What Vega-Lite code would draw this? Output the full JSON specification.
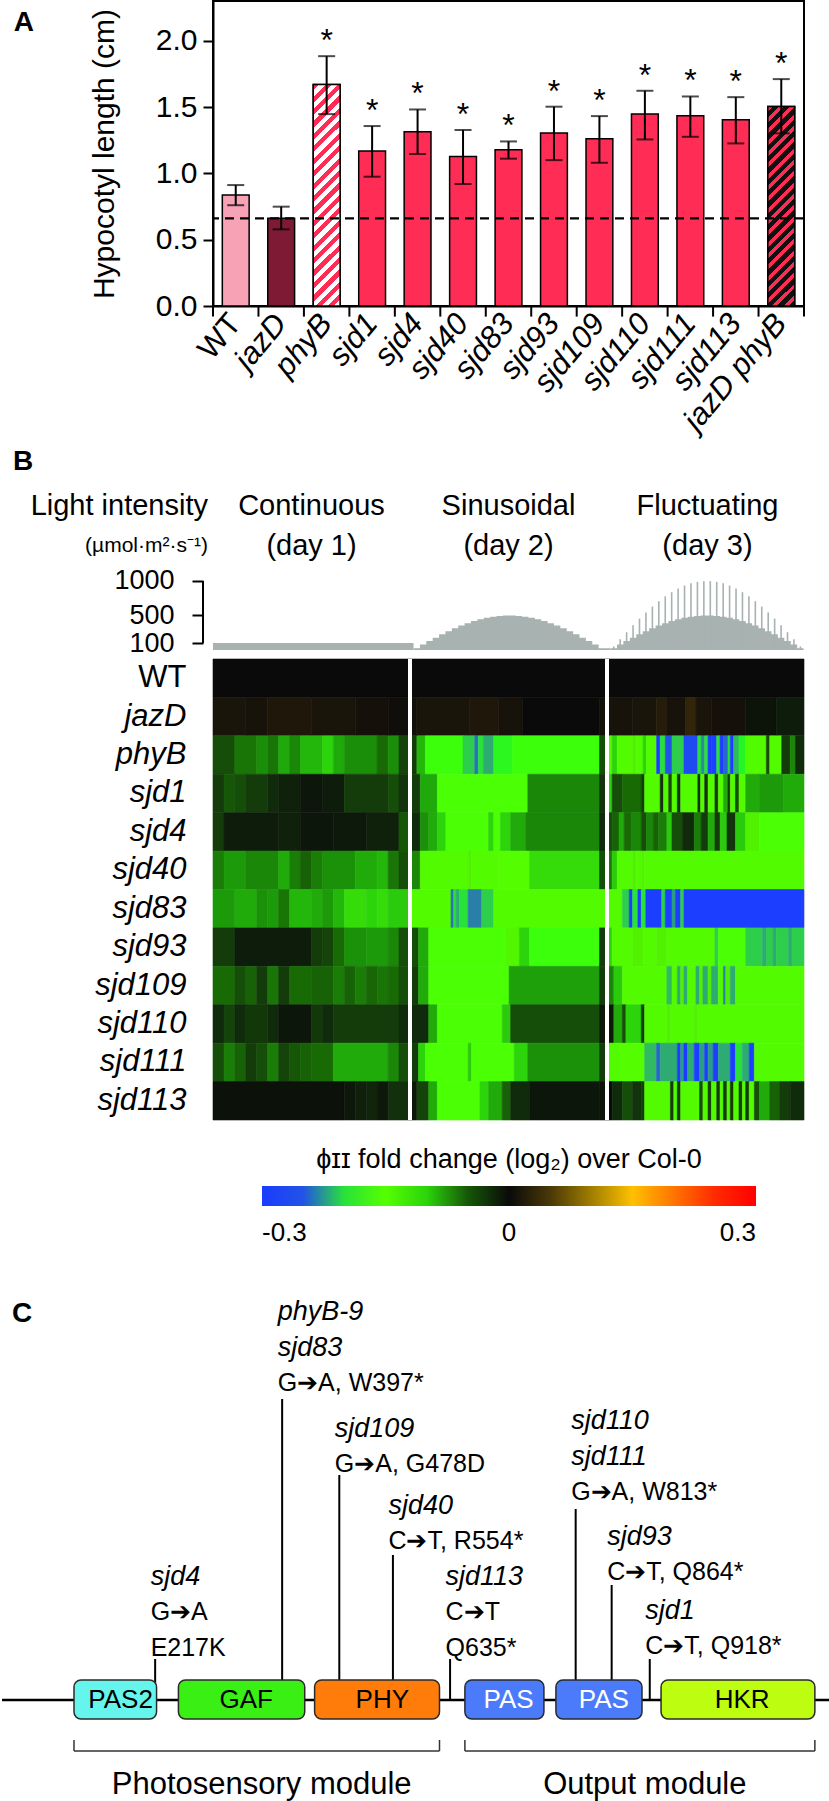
{
"$schema":"https://vega.github.io/schema/vega-lite/v6.json",
"padding":{"left":0,"top":0,"right":0,"bottom":0},
"background":"white",
"spacing":0,
"config":{"font":"Liberation Sans","view":{"stroke":null},"axis":{"domainColor":"black","tickColor":"black","labelColor":"black","titleColor":"black","grid":false},"concat":{"spacing":0}},
"datasets":{
"bars":[
{"g":"WT","m":0.837,"lo":0.76,"hi":0.912,"s":""},
{"g":"jazD","m":0.661,"lo":0.578,"hi":0.749,"s":""},
{"g":"phyB","m":1.671,"lo":1.447,"hi":1.884,"s":"*"},
{"g":"sjd1","m":1.168,"lo":0.975,"hi":1.357,"s":"*"},
{"g":"sjd4","m":1.314,"lo":1.146,"hi":1.482,"s":"*"},
{"g":"sjd40","m":1.128,"lo":0.92,"hi":1.327,"s":"*"},
{"g":"sjd83","m":1.178,"lo":1.111,"hi":1.241,"s":"*"},
{"g":"sjd93","m":1.304,"lo":1.1,"hi":1.503,"s":"*"},
{"g":"sjd109","m":1.261,"lo":1.08,"hi":1.432,"s":"*"},
{"g":"sjd110","m":1.447,"lo":1.256,"hi":1.623,"s":"*"},
{"g":"sjd111","m":1.435,"lo":1.276,"hi":1.58,"s":"*"},
{"g":"sjd113","m":1.405,"lo":1.226,"hi":1.575,"s":"*"},
{"g":"jazD phyB","m":1.505,"lo":1.302,"hi":1.711,"s":"*"}
],
"light":[
{"d":1,"t":0,"I":100},{"d":1,"t":99.6,"I":100},
{"d":2,"t":101.8,"I":26},{"d":2,"t":105.04,"I":78},{"d":2,"t":108.28,"I":129},{"d":2,"t":111.52,"I":179},{"d":2,"t":114.76,"I":227},{"d":2,"t":118,"I":272},{"d":2,"t":121.24,"I":315},{"d":2,"t":124.48,"I":354},{"d":2,"t":127.72,"I":389},{"d":2,"t":130.96,"I":419},{"d":2,"t":134.2,"I":446},{"d":2,"t":137.44,"I":467},{"d":2,"t":140.68,"I":483},{"d":2,"t":143.92,"I":494},{"d":2,"t":147.16,"I":499},{"d":2,"t":150.4,"I":499},{"d":2,"t":153.64,"I":494},{"d":2,"t":156.88,"I":483},{"d":2,"t":160.12,"I":467},{"d":2,"t":163.36,"I":446},{"d":2,"t":166.6,"I":419},{"d":2,"t":169.84,"I":389},{"d":2,"t":173.08,"I":354},{"d":2,"t":176.32,"I":315},{"d":2,"t":179.56,"I":272},{"d":2,"t":182.8,"I":227},{"d":2,"t":186.04,"I":179},{"d":2,"t":189.28,"I":129},{"d":2,"t":192.52,"I":78},{"d":2,"t":195.76,"I":26},{"d":2,"t":199,"I":26},
{"d":3,"t":201.8,"I":26},{"d":3,"t":205.07,"I":78},{"d":3,"t":208.33,"I":129},{"d":3,"t":211.6,"I":179},{"d":3,"t":214.87,"I":227},{"d":3,"t":218.13,"I":272},{"d":3,"t":221.4,"I":315},{"d":3,"t":224.67,"I":354},{"d":3,"t":227.94,"I":389},{"d":3,"t":231.2,"I":419},{"d":3,"t":234.47,"I":446},{"d":3,"t":237.74,"I":467},{"d":3,"t":241,"I":483},{"d":3,"t":244.27,"I":494},{"d":3,"t":247.54,"I":499},{"d":3,"t":250.8,"I":499},{"d":3,"t":254.07,"I":494},{"d":3,"t":257.34,"I":483},{"d":3,"t":260.6,"I":467},{"d":3,"t":263.87,"I":446},{"d":3,"t":267.14,"I":419},{"d":3,"t":270.4,"I":389},{"d":3,"t":273.67,"I":354},{"d":3,"t":276.94,"I":315},{"d":3,"t":280.2,"I":272},{"d":3,"t":283.47,"I":227},{"d":3,"t":286.74,"I":179},{"d":3,"t":290,"I":129},{"d":3,"t":293.27,"I":78},{"d":3,"t":296.54,"I":26},{"d":3,"t":299.8,"I":26}
],
"spikes":[
{"t":203.43,"I":52},{"t":206.7,"I":156},{"t":209.96,"I":258},{"t":213.23,"I":358},{"t":216.5,"I":454},{"t":219.76,"I":544},{"t":223.03,"I":630},{"t":226.3,"I":708},{"t":229.56,"I":778},{"t":232.83,"I":838},{"t":236.1,"I":892},{"t":239.36,"I":934},{"t":242.63,"I":966},{"t":245.9,"I":988},{"t":249.16,"I":998},{"t":252.43,"I":998},{"t":255.7,"I":988},{"t":258.96,"I":966},{"t":262.23,"I":934},{"t":265.5,"I":892},{"t":268.76,"I":838},{"t":272.03,"I":778},{"t":275.3,"I":708},{"t":278.56,"I":630},{"t":281.83,"I":544},{"t":285.1,"I":454},{"t":288.36,"I":358},{"t":291.63,"I":258},{"t":294.9,"I":156},{"t":298.16,"I":52}
],
"days":[{"t":50,"l1":"Continuous","l2":"(day 1)"},{"t":150,"l1":"Sinusoidal","l2":"(day 2)"},{"t":251,"l1":"Fluctuating","l2":"(day 3)"}],
"heat":[
{"g":"WT","a":0,"b":300,"v":0},
{"g":"jazD","a":0,"b":16.7,"v":0.015},{"g":"jazD","a":16.7,"b":27.8,"v":0.012},{"g":"jazD","a":27.8,"b":50,"v":0.02},{"g":"jazD","a":50,"b":72.2,"v":0.015},{"g":"jazD","a":72.2,"b":88.9,"v":0.01},{"g":"jazD","a":88.9,"b":100,"v":0.005},{"g":"jazD","a":100,"b":103.5,"v":0.008},{"g":"jazD","a":103.5,"b":130,"v":0.015},{"g":"jazD","a":130,"b":145,"v":0.02},{"g":"jazD","a":145,"b":157,"v":0.012},{"g":"jazD","a":157,"b":196.2,"v":0},{"g":"jazD","a":196.2,"b":200,"v":0.008},{"g":"jazD","a":200,"b":213,"v":0.012},{"g":"jazD","a":213,"b":225.2,"v":0.015},{"g":"jazD","a":225.2,"b":230.4,"v":0.025},{"g":"jazD","a":230.4,"b":240,"v":0.012},{"g":"jazD","a":240,"b":245.2,"v":0.035},{"g":"jazD","a":245.2,"b":253,"v":0.015},{"g":"jazD","a":253,"b":270.4,"v":0.01},{"g":"jazD","a":270.4,"b":286,"v":-0.008},{"g":"jazD","a":286,"b":300,"v":-0.015},
{"g":"phyB","a":0,"b":11.1,"v":-0.045},{"g":"phyB","a":11.1,"b":22.2,"v":-0.065},{"g":"phyB","a":22.2,"b":27.8,"v":-0.075},{"g":"phyB","a":27.8,"b":33.3,"v":-0.065},{"g":"phyB","a":33.3,"b":38.9,"v":-0.085},{"g":"phyB","a":38.9,"b":44.4,"v":-0.072},{"g":"phyB","a":44.4,"b":55.6,"v":-0.09},{"g":"phyB","a":55.6,"b":61.1,"v":-0.1},{"g":"phyB","a":61.1,"b":66.7,"v":-0.085},{"g":"phyB","a":66.7,"b":83.3,"v":-0.075},{"g":"phyB","a":83.3,"b":88.9,"v":-0.06},{"g":"phyB","a":88.9,"b":94.4,"v":-0.075},{"g":"phyB","a":94.4,"b":100,"v":-0.04},
{"g":"phyB","a":100,"b":103.5,"v":-0.035},{"g":"phyB","a":103.5,"b":107.8,"v":-0.09},{"g":"phyB","a":107.8,"b":126.9,"v":-0.175},{"g":"phyB","a":126.9,"b":132.9,"v":-0.205},{"g":"phyB","a":132.9,"b":134.7,"v":-0.235},{"g":"phyB","a":134.7,"b":137.3,"v":-0.2},{"g":"phyB","a":137.3,"b":142.5,"v":-0.215},{"g":"phyB","a":142.5,"b":152,"v":-0.19},{"g":"phyB","a":152,"b":196.2,"v":-0.175},{"g":"phyB","a":196.2,"b":200,"v":-0.045},
{"g":"phyB","a":200,"b":202.6,"v":-0.14},{"g":"phyB","a":202.6,"b":205.2,"v":-0.1},{"g":"phyB","a":205.2,"b":213,"v":-0.14},{"g":"phyB","a":213,"b":214.8,"v":-0.12},{"g":"phyB","a":214.8,"b":218.3,"v":-0.14},{"g":"phyB","a":218.3,"b":220,"v":-0.1},{"g":"phyB","a":220,"b":225.2,"v":-0.14},{"g":"phyB","a":225.2,"b":227,"v":-0.29},{"g":"phyB","a":227,"b":229.6,"v":-0.2},{"g":"phyB","a":229.6,"b":233,"v":-0.25},{"g":"phyB","a":233,"b":239.1,"v":-0.205},{"g":"phyB","a":239.1,"b":246.1,"v":-0.255},{"g":"phyB","a":246.1,"b":247.8,"v":-0.2},{"g":"phyB","a":247.8,"b":249.6,"v":-0.225},{"g":"phyB","a":249.6,"b":251.3,"v":-0.2},{"g":"phyB","a":251.3,"b":253,"v":-0.29},{"g":"phyB","a":253,"b":255.7,"v":-0.26},{"g":"phyB","a":255.7,"b":257.4,"v":-0.2},{"g":"phyB","a":257.4,"b":259.1,"v":-0.28},{"g":"phyB","a":259.1,"b":261.4,"v":-0.24},{"g":"phyB","a":261.4,"b":262.6,"v":-0.2},{"g":"phyB","a":262.6,"b":264.3,"v":-0.28},{"g":"phyB","a":264.3,"b":267,"v":-0.21},{"g":"phyB","a":267,"b":270.4,"v":-0.195},{"g":"phyB","a":270.4,"b":280.9,"v":-0.14},{"g":"phyB","a":280.9,"b":282.6,"v":-0.045},{"g":"phyB","a":282.6,"b":288.7,"v":-0.14},{"g":"phyB","a":288.7,"b":293,"v":-0.035},{"g":"phyB","a":293,"b":295.7,"v":-0.072},{"g":"phyB","a":295.7,"b":300,"v":-0.025},
{"g":"sjd1","a":0,"b":5.6,"v":-0.035},{"g":"sjd1","a":5.6,"b":11.1,"v":-0.05},{"g":"sjd1","a":11.1,"b":16.7,"v":-0.045},{"g":"sjd1","a":16.7,"b":27.8,"v":-0.035},{"g":"sjd1","a":27.8,"b":33.3,"v":-0.025},{"g":"sjd1","a":33.3,"b":44.4,"v":-0.018},{"g":"sjd1","a":44.4,"b":55.6,"v":-0.01},{"g":"sjd1","a":55.6,"b":66.7,"v":-0.015},{"g":"sjd1","a":66.7,"b":88.9,"v":-0.035},{"g":"sjd1","a":88.9,"b":94.4,"v":-0.045},{"g":"sjd1","a":94.4,"b":100,"v":-0.03},
{"g":"sjd1","a":100,"b":105.2,"v":-0.035},{"g":"sjd1","a":105.2,"b":113.9,"v":-0.085},{"g":"sjd1","a":113.9,"b":159.8,"v":-0.16},{"g":"sjd1","a":159.8,"b":196.2,"v":-0.072},{"g":"sjd1","a":196.2,"b":200,"v":-0.03},
{"g":"sjd1","a":200,"b":202.6,"v":-0.1},{"g":"sjd1","a":202.6,"b":207.8,"v":-0.045},{"g":"sjd1","a":207.8,"b":217.4,"v":-0.06},{"g":"sjd1","a":217.4,"b":219.1,"v":-0.035},{"g":"sjd1","a":219.1,"b":227,"v":-0.14},{"g":"sjd1","a":227,"b":228.7,"v":-0.03},{"g":"sjd1","a":228.7,"b":231.3,"v":-0.14},{"g":"sjd1","a":231.3,"b":233,"v":-0.045},{"g":"sjd1","a":233,"b":235.7,"v":-0.14},{"g":"sjd1","a":235.7,"b":237.4,"v":-0.03},{"g":"sjd1","a":237.4,"b":246.1,"v":-0.14},{"g":"sjd1","a":246.1,"b":247.5,"v":-0.03},{"g":"sjd1","a":247.5,"b":249.6,"v":-0.14},{"g":"sjd1","a":249.6,"b":251.3,"v":-0.03},{"g":"sjd1","a":251.3,"b":254.8,"v":-0.14},{"g":"sjd1","a":254.8,"b":256.5,"v":-0.035},{"g":"sjd1","a":256.5,"b":259.1,"v":-0.14},{"g":"sjd1","a":259.1,"b":261.4,"v":-0.086},{"g":"sjd1","a":261.4,"b":262.6,"v":-0.035},{"g":"sjd1","a":262.6,"b":265.2,"v":-0.14},{"g":"sjd1","a":265.2,"b":267,"v":-0.045},{"g":"sjd1","a":267,"b":270.4,"v":-0.14},{"g":"sjd1","a":270.4,"b":277.4,"v":-0.086},{"g":"sjd1","a":277.4,"b":289.6,"v":-0.08},{"g":"sjd1","a":289.6,"b":300,"v":-0.086},
{"g":"sjd4","a":0,"b":5.6,"v":-0.035},{"g":"sjd4","a":5.6,"b":33.3,"v":-0.015},{"g":"sjd4","a":33.3,"b":44.4,"v":-0.018},{"g":"sjd4","a":44.4,"b":61.1,"v":-0.01},{"g":"sjd4","a":61.1,"b":77.8,"v":-0.013},{"g":"sjd4","a":77.8,"b":94.4,"v":-0.018},{"g":"sjd4","a":94.4,"b":100,"v":-0.05},
{"g":"sjd4","a":100,"b":105.2,"v":-0.025},{"g":"sjd4","a":105.2,"b":109.5,"v":-0.076},{"g":"sjd4","a":109.5,"b":113.9,"v":-0.086},{"g":"sjd4","a":113.9,"b":118.2,"v":-0.1},{"g":"sjd4","a":118.2,"b":139.9,"v":-0.16},{"g":"sjd4","a":139.9,"b":142.5,"v":-0.1},{"g":"sjd4","a":142.5,"b":145.9,"v":-0.16},{"g":"sjd4","a":145.9,"b":151.1,"v":-0.1},{"g":"sjd4","a":151.1,"b":158.9,"v":-0.086},{"g":"sjd4","a":158.9,"b":196.2,"v":-0.072},{"g":"sjd4","a":196.2,"b":200,"v":-0.025},
{"g":"sjd4","a":200,"b":202.6,"v":-0.045},{"g":"sjd4","a":202.6,"b":206.1,"v":-0.055},{"g":"sjd4","a":206.1,"b":208.7,"v":-0.086},{"g":"sjd4","a":208.7,"b":212.2,"v":-0.06},{"g":"sjd4","a":212.2,"b":217.4,"v":-0.072},{"g":"sjd4","a":217.4,"b":220,"v":-0.045},{"g":"sjd4","a":220,"b":223.5,"v":-0.072},{"g":"sjd4","a":223.5,"b":226.1,"v":-0.055},{"g":"sjd4","a":226.1,"b":230.4,"v":-0.068},{"g":"sjd4","a":230.4,"b":233,"v":-0.097},{"g":"sjd4","a":233,"b":238.3,"v":-0.045},{"g":"sjd4","a":238.3,"b":244.3,"v":-0.025},{"g":"sjd4","a":244.3,"b":247.8,"v":-0.068},{"g":"sjd4","a":247.8,"b":251.3,"v":-0.035},{"g":"sjd4","a":251.3,"b":254.8,"v":-0.086},{"g":"sjd4","a":254.8,"b":257.4,"v":-0.035},{"g":"sjd4","a":257.4,"b":260.9,"v":-0.097},{"g":"sjd4","a":260.9,"b":265.2,"v":-0.03},{"g":"sjd4","a":265.2,"b":270.4,"v":-0.097},{"g":"sjd4","a":270.4,"b":277.4,"v":-0.12},{"g":"sjd4","a":277.4,"b":300,"v":-0.16},
{"g":"sjd40","a":0,"b":5.6,"v":-0.068},{"g":"sjd40","a":5.6,"b":16.7,"v":-0.08},{"g":"sjd40","a":16.7,"b":33.3,"v":-0.072},{"g":"sjd40","a":33.3,"b":38.9,"v":-0.086},{"g":"sjd40","a":38.9,"b":44.4,"v":-0.068},{"g":"sjd40","a":44.4,"b":50,"v":-0.055},{"g":"sjd40","a":50,"b":55.6,"v":-0.068},{"g":"sjd40","a":55.6,"b":72.2,"v":-0.076},{"g":"sjd40","a":72.2,"b":83.3,"v":-0.086},{"g":"sjd40","a":83.3,"b":88.9,"v":-0.09},{"g":"sjd40","a":88.9,"b":94.4,"v":-0.065},{"g":"sjd40","a":94.4,"b":100,"v":-0.045},
{"g":"sjd40","a":100,"b":105.2,"v":-0.072},{"g":"sjd40","a":105.2,"b":129.5,"v":-0.14},{"g":"sjd40","a":129.5,"b":131.2,"v":-0.12},{"g":"sjd40","a":131.2,"b":145.1,"v":-0.14},{"g":"sjd40","a":145.1,"b":160.7,"v":-0.145},{"g":"sjd40","a":160.7,"b":196.2,"v":-0.105},{"g":"sjd40","a":196.2,"b":200,"v":-0.045},
{"g":"sjd40","a":200,"b":202.6,"v":-0.068},{"g":"sjd40","a":202.6,"b":205.2,"v":-0.097},{"g":"sjd40","a":205.2,"b":213,"v":-0.14},{"g":"sjd40","a":213,"b":214.8,"v":-0.12},{"g":"sjd40","a":214.8,"b":217.4,"v":-0.14},{"g":"sjd40","a":217.4,"b":219.1,"v":-0.12},{"g":"sjd40","a":219.1,"b":300,"v":-0.14},
{"g":"sjd83","a":0,"b":11.1,"v":-0.08},{"g":"sjd83","a":11.1,"b":22.2,"v":-0.086},{"g":"sjd83","a":22.2,"b":27.8,"v":-0.076},{"g":"sjd83","a":27.8,"b":33.3,"v":-0.08},{"g":"sjd83","a":33.3,"b":38.9,"v":-0.065},{"g":"sjd83","a":38.9,"b":50,"v":-0.09},{"g":"sjd83","a":50,"b":55.6,"v":-0.086},{"g":"sjd83","a":55.6,"b":61.1,"v":-0.08},{"g":"sjd83","a":61.1,"b":66.7,"v":-0.09},{"g":"sjd83","a":66.7,"b":77.8,"v":-0.105},{"g":"sjd83","a":77.8,"b":83.3,"v":-0.1},{"g":"sjd83","a":83.3,"b":88.9,"v":-0.105},{"g":"sjd83","a":88.9,"b":100,"v":-0.097},
{"g":"sjd83","a":100,"b":120.8,"v":-0.14},{"g":"sjd83","a":120.8,"b":122.2,"v":-0.235},{"g":"sjd83","a":122.2,"b":123.4,"v":-0.2},{"g":"sjd83","a":123.4,"b":125.1,"v":-0.215},{"g":"sjd83","a":125.1,"b":129.5,"v":-0.2},{"g":"sjd83","a":129.5,"b":136.4,"v":-0.23},{"g":"sjd83","a":136.4,"b":142.5,"v":-0.205},{"g":"sjd83","a":142.5,"b":200,"v":-0.14},
{"g":"sjd83","a":200,"b":207.8,"v":-0.14},{"g":"sjd83","a":207.8,"b":211.3,"v":-0.205},{"g":"sjd83","a":211.3,"b":213,"v":-0.28},{"g":"sjd83","a":213,"b":215.7,"v":-0.2},{"g":"sjd83","a":215.7,"b":217.4,"v":-0.28},{"g":"sjd83","a":217.4,"b":219.7,"v":-0.2},{"g":"sjd83","a":219.7,"b":227.8,"v":-0.28},{"g":"sjd83","a":227.8,"b":229.6,"v":-0.205},{"g":"sjd83","a":229.6,"b":233,"v":-0.28},{"g":"sjd83","a":233,"b":234.8,"v":-0.22},{"g":"sjd83","a":234.8,"b":237.4,"v":-0.28},{"g":"sjd83","a":237.4,"b":239.1,"v":-0.205},{"g":"sjd83","a":239.1,"b":300,"v":-0.28},
{"g":"sjd93","a":0,"b":11.1,"v":-0.035},{"g":"sjd93","a":11.1,"b":50,"v":-0.015},{"g":"sjd93","a":50,"b":55.6,"v":-0.035},{"g":"sjd93","a":55.6,"b":61.1,"v":-0.04},{"g":"sjd93","a":61.1,"b":66.7,"v":-0.06},{"g":"sjd93","a":66.7,"b":77.8,"v":-0.076},{"g":"sjd93","a":77.8,"b":88.9,"v":-0.08},{"g":"sjd93","a":88.9,"b":94.4,"v":-0.072},{"g":"sjd93","a":94.4,"b":100,"v":-0.045},
{"g":"sjd93","a":100,"b":104.3,"v":-0.045},{"g":"sjd93","a":104.3,"b":109.5,"v":-0.086},{"g":"sjd93","a":109.5,"b":148.5,"v":-0.16},{"g":"sjd93","a":148.5,"b":155.5,"v":-0.13},{"g":"sjd93","a":155.5,"b":160.7,"v":-0.1},{"g":"sjd93","a":160.7,"b":196.2,"v":-0.175},{"g":"sjd93","a":196.2,"b":200,"v":-0.035},
{"g":"sjd93","a":200,"b":202.6,"v":-0.1},{"g":"sjd93","a":202.6,"b":213,"v":-0.14},{"g":"sjd93","a":213,"b":218.3,"v":-0.12},{"g":"sjd93","a":218.3,"b":225.2,"v":-0.14},{"g":"sjd93","a":225.2,"b":230.4,"v":-0.12},{"g":"sjd93","a":230.4,"b":254.8,"v":-0.14},{"g":"sjd93","a":254.8,"b":256.5,"v":-0.205},{"g":"sjd93","a":256.5,"b":270.4,"v":-0.16},{"g":"sjd93","a":270.4,"b":279,"v":-0.205},{"g":"sjd93","a":279,"b":281,"v":-0.215},{"g":"sjd93","a":281,"b":284.3,"v":-0.205},{"g":"sjd93","a":284.3,"b":286,"v":-0.215},{"g":"sjd93","a":286,"b":292.2,"v":-0.205},{"g":"sjd93","a":292.2,"b":293.9,"v":-0.215},{"g":"sjd93","a":293.9,"b":300,"v":-0.205},
{"g":"sjd109","a":0,"b":11.1,"v":-0.06},{"g":"sjd109","a":11.1,"b":16.7,"v":-0.045},{"g":"sjd109","a":16.7,"b":22.2,"v":-0.055},{"g":"sjd109","a":22.2,"b":27.8,"v":-0.035},{"g":"sjd109","a":27.8,"b":33.3,"v":-0.065},{"g":"sjd109","a":33.3,"b":38.9,"v":-0.035},{"g":"sjd109","a":38.9,"b":50,"v":-0.06},{"g":"sjd109","a":50,"b":61.1,"v":-0.055},{"g":"sjd109","a":61.1,"b":66.7,"v":-0.068},{"g":"sjd109","a":66.7,"b":72.2,"v":-0.055},{"g":"sjd109","a":72.2,"b":77.8,"v":-0.068},{"g":"sjd109","a":77.8,"b":83.3,"v":-0.058},{"g":"sjd109","a":83.3,"b":88.9,"v":-0.065},{"g":"sjd109","a":88.9,"b":94.4,"v":-0.06},{"g":"sjd109","a":94.4,"b":100,"v":-0.045},
{"g":"sjd109","a":100,"b":104.3,"v":-0.035},{"g":"sjd109","a":104.3,"b":109.5,"v":-0.086},{"g":"sjd109","a":109.5,"b":150.3,"v":-0.16},{"g":"sjd109","a":150.3,"b":196.2,"v":-0.082},{"g":"sjd109","a":196.2,"b":200,"v":-0.035},
{"g":"sjd109","a":200,"b":203.5,"v":-0.072},{"g":"sjd109","a":203.5,"b":207.8,"v":-0.097},{"g":"sjd109","a":207.8,"b":230.4,"v":-0.14},{"g":"sjd109","a":230.4,"b":233,"v":-0.21},{"g":"sjd109","a":233,"b":235.7,"v":-0.14},{"g":"sjd109","a":235.7,"b":237.4,"v":-0.215},{"g":"sjd109","a":237.4,"b":239.1,"v":-0.12},{"g":"sjd109","a":239.1,"b":240.9,"v":-0.215},{"g":"sjd109","a":240.9,"b":245.2,"v":-0.14},{"g":"sjd109","a":245.2,"b":247,"v":-0.215},{"g":"sjd109","a":247,"b":248.7,"v":-0.12},{"g":"sjd109","a":248.7,"b":251.3,"v":-0.215},{"g":"sjd109","a":251.3,"b":253,"v":-0.12},{"g":"sjd109","a":253,"b":256.5,"v":-0.215},{"g":"sjd109","a":256.5,"b":259.1,"v":-0.14},{"g":"sjd109","a":259.1,"b":260.3,"v":-0.23},{"g":"sjd109","a":260.3,"b":262.6,"v":-0.12},{"g":"sjd109","a":262.6,"b":265.2,"v":-0.215},{"g":"sjd109","a":265.2,"b":300,"v":-0.14},
{"g":"sjd110","a":0,"b":5.6,"v":-0.025},{"g":"sjd110","a":5.6,"b":11.1,"v":-0.04},{"g":"sjd110","a":11.1,"b":16.7,"v":-0.025},{"g":"sjd110","a":16.7,"b":27.8,"v":-0.033},{"g":"sjd110","a":27.8,"b":33.3,"v":-0.025},{"g":"sjd110","a":33.3,"b":50,"v":-0.01},{"g":"sjd110","a":50,"b":55.6,"v":-0.033},{"g":"sjd110","a":55.6,"b":61.1,"v":-0.025},{"g":"sjd110","a":61.1,"b":94.4,"v":-0.035},{"g":"sjd110","a":94.4,"b":100,"v":-0.025},
{"g":"sjd110","a":100,"b":109.5,"v":-0.025},{"g":"sjd110","a":109.5,"b":113.9,"v":-0.086},{"g":"sjd110","a":113.9,"b":146.8,"v":-0.16},{"g":"sjd110","a":146.8,"b":151.1,"v":-0.097},{"g":"sjd110","a":151.1,"b":196.2,"v":-0.045},{"g":"sjd110","a":196.2,"b":200,"v":-0.012},
{"g":"sjd110","a":200,"b":203.5,"v":-0.012},{"g":"sjd110","a":203.5,"b":207.8,"v":-0.086},{"g":"sjd110","a":207.8,"b":209.6,"v":-0.045},{"g":"sjd110","a":209.6,"b":217.4,"v":-0.1},{"g":"sjd110","a":217.4,"b":219.1,"v":-0.035},{"g":"sjd110","a":219.1,"b":230.4,"v":-0.14},{"g":"sjd110","a":230.4,"b":232.2,"v":-0.12},{"g":"sjd110","a":232.2,"b":244.3,"v":-0.14},{"g":"sjd110","a":244.3,"b":246.1,"v":-0.12},{"g":"sjd110","a":246.1,"b":300,"v":-0.14},
{"g":"sjd111","a":0,"b":5.6,"v":-0.045},{"g":"sjd111","a":5.6,"b":11.1,"v":-0.068},{"g":"sjd111","a":11.1,"b":16.7,"v":-0.055},{"g":"sjd111","a":16.7,"b":22.2,"v":-0.035},{"g":"sjd111","a":22.2,"b":27.8,"v":-0.045},{"g":"sjd111","a":27.8,"b":33.3,"v":-0.068},{"g":"sjd111","a":33.3,"b":38.9,"v":-0.04},{"g":"sjd111","a":38.9,"b":44.4,"v":-0.05},{"g":"sjd111","a":44.4,"b":50,"v":-0.055},{"g":"sjd111","a":50,"b":61.1,"v":-0.06},{"g":"sjd111","a":61.1,"b":88.9,"v":-0.086},{"g":"sjd111","a":88.9,"b":94.4,"v":-0.072},{"g":"sjd111","a":94.4,"b":100,"v":-0.045},
{"g":"sjd111","a":100,"b":104.3,"v":-0.035},{"g":"sjd111","a":104.3,"b":107.8,"v":-0.1},{"g":"sjd111","a":107.8,"b":129.5,"v":-0.16},{"g":"sjd111","a":129.5,"b":131.2,"v":-0.097},{"g":"sjd111","a":131.2,"b":152.9,"v":-0.16},{"g":"sjd111","a":152.9,"b":159.8,"v":-0.1},{"g":"sjd111","a":159.8,"b":196.2,"v":-0.076},{"g":"sjd111","a":196.2,"b":200,"v":-0.035},
{"g":"sjd111","a":200,"b":206.1,"v":-0.14},{"g":"sjd111","a":206.1,"b":219.1,"v":-0.145},{"g":"sjd111","a":219.1,"b":225.2,"v":-0.21},{"g":"sjd111","a":225.2,"b":227,"v":-0.24},{"g":"sjd111","a":227,"b":235.7,"v":-0.215},{"g":"sjd111","a":235.7,"b":237.4,"v":-0.27},{"g":"sjd111","a":237.4,"b":239.1,"v":-0.22},{"g":"sjd111","a":239.1,"b":240.9,"v":-0.29},{"g":"sjd111","a":240.9,"b":244.3,"v":-0.215},{"g":"sjd111","a":244.3,"b":247,"v":-0.28},{"g":"sjd111","a":247,"b":249.6,"v":-0.22},{"g":"sjd111","a":249.6,"b":251.3,"v":-0.28},{"g":"sjd111","a":251.3,"b":253.9,"v":-0.22},{"g":"sjd111","a":253.9,"b":256.5,"v":-0.27},{"g":"sjd111","a":256.5,"b":262.6,"v":-0.215},{"g":"sjd111","a":262.6,"b":265.2,"v":-0.27},{"g":"sjd111","a":265.2,"b":268.7,"v":-0.2},{"g":"sjd111","a":268.7,"b":272.2,"v":-0.215},{"g":"sjd111","a":272.2,"b":274.8,"v":-0.27},{"g":"sjd111","a":274.8,"b":300,"v":-0.14},
{"g":"sjd113","a":0,"b":66.7,"v":-0.006},{"g":"sjd113","a":66.7,"b":72.2,"v":-0.012},{"g":"sjd113","a":72.2,"b":77.8,"v":-0.018},{"g":"sjd113","a":77.8,"b":83.3,"v":-0.022},{"g":"sjd113","a":83.3,"b":88.9,"v":-0.012},{"g":"sjd113","a":88.9,"b":100,"v":-0.028},
{"g":"sjd113","a":100,"b":103.5,"v":-0.012},{"g":"sjd113","a":103.5,"b":109.5,"v":-0.04},{"g":"sjd113","a":109.5,"b":113.9,"v":-0.086},{"g":"sjd113","a":113.9,"b":135.5,"v":-0.16},{"g":"sjd113","a":135.5,"b":139.9,"v":-0.1},{"g":"sjd113","a":139.9,"b":146.8,"v":-0.086},{"g":"sjd113","a":146.8,"b":151.1,"v":-0.055},{"g":"sjd113","a":151.1,"b":160.7,"v":-0.025},{"g":"sjd113","a":160.7,"b":196.2,"v":-0.01},{"g":"sjd113","a":196.2,"b":200,"v":-0.008},
{"g":"sjd113","a":200,"b":202.6,"v":0},{"g":"sjd113","a":202.6,"b":207.8,"v":-0.025},{"g":"sjd113","a":207.8,"b":213,"v":-0.045},{"g":"sjd113","a":213,"b":217.4,"v":-0.03},{"g":"sjd113","a":217.4,"b":219.1,"v":-0.035},{"g":"sjd113","a":219.1,"b":232.2,"v":-0.14},{"g":"sjd113","a":232.2,"b":233.9,"v":-0.035},{"g":"sjd113","a":233.9,"b":235.7,"v":-0.14},{"g":"sjd113","a":235.7,"b":237.4,"v":-0.035},{"g":"sjd113","a":237.4,"b":247,"v":-0.14},{"g":"sjd113","a":247,"b":248.7,"v":-0.045},{"g":"sjd113","a":248.7,"b":251.3,"v":-0.14},{"g":"sjd113","a":251.3,"b":253,"v":-0.035},{"g":"sjd113","a":253,"b":255.7,"v":-0.14},{"g":"sjd113","a":255.7,"b":257.4,"v":-0.035},{"g":"sjd113","a":257.4,"b":259.1,"v":-0.14},{"g":"sjd113","a":259.1,"b":260.9,"v":-0.035},{"g":"sjd113","a":260.9,"b":262.6,"v":-0.14},{"g":"sjd113","a":262.6,"b":264.3,"v":-0.035},{"g":"sjd113","a":264.3,"b":267,"v":-0.14},{"g":"sjd113","a":267,"b":268.7,"v":-0.035},{"g":"sjd113","a":268.7,"b":270.4,"v":-0.14},{"g":"sjd113","a":270.4,"b":272.2,"v":-0.035},{"g":"sjd113","a":272.2,"b":274.8,"v":-0.14},{"g":"sjd113","a":274.8,"b":277.4,"v":-0.045},{"g":"sjd113","a":277.4,"b":282.6,"v":-0.086},{"g":"sjd113","a":282.6,"b":287.8,"v":-0.055},{"g":"sjd113","a":287.8,"b":293,"v":-0.035},{"g":"sjd113","a":293,"b":300,"v":-0.025}
],
"doms":[{"n":"PAS2","a":102,"b":219,"c":168},{"n":"GAF","a":250,"b":429,"c":346},{"n":"PHY","a":443,"b":620,"c":539},{"n":"PAS","a":656,"b":768,"c":718},{"n":"PAS","a":785,"b":907,"c":853},{"n":"HKR","a":934,"b":1152,"c":1049}],
"muts":[
{"aa":217,"top":143,"lt":238,"mt":202,"name":"sjd4","mut":"G➔A\nE217K"},
{"aa":397,"top":403,"lt":503,"mt":431,"name":"phyB-9\nsjd83","mut":"G➔A, W397*"},
{"aa":478,"top":327,"lt":386,"mt":350,"name":"sjd109","mut":"G➔A, G478D"},
{"aa":554,"top":247,"lt":309,"mt":273,"name":"sjd40","mut":"C➔T, R554*"},
{"aa":635,"top":143,"lt":238,"mt":202,"name":"sjd113","mut":"C➔T\nQ635*"},
{"aa":813,"top":293,"lt":394,"mt":322,"name":"sjd110\nsjd111","mut":"G➔A, W813*"},
{"aa":864,"top":217,"lt":278,"mt":242,"name":"sjd93","mut":"C➔T, Q864*"},
{"aa":918,"top":143,"lt":204,"mt":168,"name":"sjd1","mut":"C➔T, Q918*"}
],
"mods":[{"a":102,"b":620,"c":368,"l":"Photosensory module"},{"a":656,"b":1152,"c":911,"l":"Output module"}]
},
"vconcat":[
{
"width":591,"height":305,
"view":{"stroke":"black","strokeWidth":2},
"data":{"name":"bars"},
"layer":[
{"mark":{"type":"bar","width":{"band":0.59},"stroke":"black","strokeWidth":1.5},
"encoding":{
"x":{"field":"g","type":"nominal","sort":["WT","jazD","phyB","sjd1","sjd4","sjd40","sjd83","sjd93","sjd109","sjd110","sjd111","sjd113","jazD phyB"],"title":null,"scale":{"paddingInner":0,"paddingOuter":0},
"axis":{"ticks":false,"labelAngle":-50,"labelAlign":"right","labelBaseline":"middle","labelFontSize":31,"labelPadding":12,"domainWidth":2,"labelLimit":300,"labelFontStyle":{"condition":{"test":"datum.value == 'WT'","value":"normal"},"value":"italic"}}},
"y":{"field":"m","type":"quantitative","title":"Hypocotyl length (cm)","scale":{"domain":[0,2.3],"nice":false},
"axis":{"values":[0,0.5,1,1.5,2],"format":".1f","labelFontSize":30,"tickSize":10,"tickWidth":2,"domainWidth":2,"titleFontSize":30,"titleFontWeight":"normal","titlePadding":36,"labelPadding":6}},
"color":{"field":"g","type":"nominal","legend":null,"scale":{"domain":["WT","jazD","phyB","sjd1","sjd4","sjd40","sjd83","sjd93","sjd109","sjd110","sjd111","sjd113","jazD phyB"],"range":["#f7a3b5","#7e1a33","#ffffff","#ff2d55","#ff2d55","#ff2d55","#ff2d55","#ff2d55","#ff2d55","#ff2d55","#ff2d55","#ff2d55","#111111"]}}}},
{"transform":[{"filter":"datum.g == 'phyB'"}],
"mark":{"type":"bar","width":{"band":0.59},"stroke":"black","strokeWidth":1.5,
"fill":{"gradient":"linear","x1":0,"y1":0,"x2":0.1336,"y2":1.105,"stops":[
{"offset":0,"color":"#ff2d55"},{"offset":0.025,"color":"#ff2d55"},{"offset":0.025,"color":"#ffffff"},{"offset":0.05,"color":"#ffffff"},
{"offset":0.05,"color":"#ff2d55"},{"offset":0.075,"color":"#ff2d55"},{"offset":0.075,"color":"#ffffff"},{"offset":0.1,"color":"#ffffff"},
{"offset":0.1,"color":"#ff2d55"},{"offset":0.125,"color":"#ff2d55"},{"offset":0.125,"color":"#ffffff"},{"offset":0.15,"color":"#ffffff"},
{"offset":0.15,"color":"#ff2d55"},{"offset":0.175,"color":"#ff2d55"},{"offset":0.175,"color":"#ffffff"},{"offset":0.2,"color":"#ffffff"},
{"offset":0.2,"color":"#ff2d55"},{"offset":0.225,"color":"#ff2d55"},{"offset":0.225,"color":"#ffffff"},{"offset":0.25,"color":"#ffffff"},
{"offset":0.25,"color":"#ff2d55"},{"offset":0.275,"color":"#ff2d55"},{"offset":0.275,"color":"#ffffff"},{"offset":0.3,"color":"#ffffff"},
{"offset":0.3,"color":"#ff2d55"},{"offset":0.325,"color":"#ff2d55"},{"offset":0.325,"color":"#ffffff"},{"offset":0.35,"color":"#ffffff"},
{"offset":0.35,"color":"#ff2d55"},{"offset":0.375,"color":"#ff2d55"},{"offset":0.375,"color":"#ffffff"},{"offset":0.4,"color":"#ffffff"},
{"offset":0.4,"color":"#ff2d55"},{"offset":0.425,"color":"#ff2d55"},{"offset":0.425,"color":"#ffffff"},{"offset":0.45,"color":"#ffffff"},
{"offset":0.45,"color":"#ff2d55"},{"offset":0.475,"color":"#ff2d55"},{"offset":0.475,"color":"#ffffff"},{"offset":0.5,"color":"#ffffff"},
{"offset":0.5,"color":"#ff2d55"},{"offset":0.525,"color":"#ff2d55"},{"offset":0.525,"color":"#ffffff"},{"offset":0.55,"color":"#ffffff"},
{"offset":0.55,"color":"#ff2d55"},{"offset":0.575,"color":"#ff2d55"},{"offset":0.575,"color":"#ffffff"},{"offset":0.6,"color":"#ffffff"},
{"offset":0.6,"color":"#ff2d55"},{"offset":0.625,"color":"#ff2d55"},{"offset":0.625,"color":"#ffffff"},{"offset":0.65,"color":"#ffffff"},
{"offset":0.65,"color":"#ff2d55"},{"offset":0.675,"color":"#ff2d55"},{"offset":0.675,"color":"#ffffff"},{"offset":0.7,"color":"#ffffff"},
{"offset":0.7,"color":"#ff2d55"},{"offset":0.725,"color":"#ff2d55"},{"offset":0.725,"color":"#ffffff"},{"offset":0.75,"color":"#ffffff"},
{"offset":0.75,"color":"#ff2d55"},{"offset":0.775,"color":"#ff2d55"},{"offset":0.775,"color":"#ffffff"},{"offset":0.8,"color":"#ffffff"},
{"offset":0.8,"color":"#ff2d55"},{"offset":0.825,"color":"#ff2d55"},{"offset":0.825,"color":"#ffffff"},{"offset":0.85,"color":"#ffffff"},
{"offset":0.85,"color":"#ff2d55"},{"offset":0.875,"color":"#ff2d55"},{"offset":0.875,"color":"#ffffff"},{"offset":0.9,"color":"#ffffff"},
{"offset":0.9,"color":"#ff2d55"},{"offset":0.925,"color":"#ff2d55"},{"offset":0.925,"color":"#ffffff"},{"offset":0.95,"color":"#ffffff"},
{"offset":0.95,"color":"#ff2d55"},{"offset":0.975,"color":"#ff2d55"},{"offset":0.975,"color":"#ffffff"},{"offset":1,"color":"#ffffff"}]}},
"encoding":{"x":{"field":"g","type":"nominal","sort":["WT","jazD","phyB","sjd1","sjd4","sjd40","sjd83","sjd93","sjd109","sjd110","sjd111","sjd113","jazD phyB"]},"y":{"field":"m","type":"quantitative"}}},
{"transform":[{"filter":"datum.g == 'jazD phyB'"}],
"mark":{"type":"bar","width":{"band":0.59},"stroke":"black","strokeWidth":1.5,
"fill":{"gradient":"linear","x1":0,"y1":0,"x2":0.1496,"y2":1.114,"stops":[
{"offset":0,"color":"#ff2d55"},{"offset":0.022,"color":"#ff2d55"},{"offset":0.022,"color":"#111111"},{"offset":0.05,"color":"#111111"},
{"offset":0.05,"color":"#ff2d55"},{"offset":0.072,"color":"#ff2d55"},{"offset":0.072,"color":"#111111"},{"offset":0.1,"color":"#111111"},
{"offset":0.1,"color":"#ff2d55"},{"offset":0.122,"color":"#ff2d55"},{"offset":0.122,"color":"#111111"},{"offset":0.15,"color":"#111111"},
{"offset":0.15,"color":"#ff2d55"},{"offset":0.172,"color":"#ff2d55"},{"offset":0.172,"color":"#111111"},{"offset":0.2,"color":"#111111"},
{"offset":0.2,"color":"#ff2d55"},{"offset":0.222,"color":"#ff2d55"},{"offset":0.222,"color":"#111111"},{"offset":0.25,"color":"#111111"},
{"offset":0.25,"color":"#ff2d55"},{"offset":0.272,"color":"#ff2d55"},{"offset":0.272,"color":"#111111"},{"offset":0.3,"color":"#111111"},
{"offset":0.3,"color":"#ff2d55"},{"offset":0.322,"color":"#ff2d55"},{"offset":0.322,"color":"#111111"},{"offset":0.35,"color":"#111111"},
{"offset":0.35,"color":"#ff2d55"},{"offset":0.372,"color":"#ff2d55"},{"offset":0.372,"color":"#111111"},{"offset":0.4,"color":"#111111"},
{"offset":0.4,"color":"#ff2d55"},{"offset":0.422,"color":"#ff2d55"},{"offset":0.422,"color":"#111111"},{"offset":0.45,"color":"#111111"},
{"offset":0.45,"color":"#ff2d55"},{"offset":0.472,"color":"#ff2d55"},{"offset":0.472,"color":"#111111"},{"offset":0.5,"color":"#111111"},
{"offset":0.5,"color":"#ff2d55"},{"offset":0.522,"color":"#ff2d55"},{"offset":0.522,"color":"#111111"},{"offset":0.55,"color":"#111111"},
{"offset":0.55,"color":"#ff2d55"},{"offset":0.572,"color":"#ff2d55"},{"offset":0.572,"color":"#111111"},{"offset":0.6,"color":"#111111"},
{"offset":0.6,"color":"#ff2d55"},{"offset":0.622,"color":"#ff2d55"},{"offset":0.622,"color":"#111111"},{"offset":0.65,"color":"#111111"},
{"offset":0.65,"color":"#ff2d55"},{"offset":0.672,"color":"#ff2d55"},{"offset":0.672,"color":"#111111"},{"offset":0.7,"color":"#111111"},
{"offset":0.7,"color":"#ff2d55"},{"offset":0.722,"color":"#ff2d55"},{"offset":0.722,"color":"#111111"},{"offset":0.75,"color":"#111111"},
{"offset":0.75,"color":"#ff2d55"},{"offset":0.772,"color":"#ff2d55"},{"offset":0.772,"color":"#111111"},{"offset":0.8,"color":"#111111"},
{"offset":0.8,"color":"#ff2d55"},{"offset":0.822,"color":"#ff2d55"},{"offset":0.822,"color":"#111111"},{"offset":0.85,"color":"#111111"},
{"offset":0.85,"color":"#ff2d55"},{"offset":0.872,"color":"#ff2d55"},{"offset":0.872,"color":"#111111"},{"offset":0.9,"color":"#111111"},
{"offset":0.9,"color":"#ff2d55"},{"offset":0.922,"color":"#ff2d55"},{"offset":0.922,"color":"#111111"},{"offset":0.95,"color":"#111111"},
{"offset":0.95,"color":"#ff2d55"},{"offset":0.972,"color":"#ff2d55"},{"offset":0.972,"color":"#111111"},{"offset":1,"color":"#111111"}]}},
"encoding":{"x":{"field":"g","type":"nominal","sort":["WT","jazD","phyB","sjd1","sjd4","sjd40","sjd83","sjd93","sjd109","sjd110","sjd111","sjd113","jazD phyB"]},"y":{"field":"m","type":"quantitative"}}},
{"data":{"values":[{}]},"mark":{"type":"rule","strokeDash":[9,6],"strokeWidth":2.2,"color":"black"},"encoding":{"y":{"datum":0.661,"type":"quantitative"}}},
{"mark":{"type":"rule","strokeWidth":2,"color":"black"},"encoding":{"x":{"field":"g","type":"nominal","sort":["WT","jazD","phyB","sjd1","sjd4","sjd40","sjd83","sjd93","sjd109","sjd110","sjd111","sjd113","jazD phyB"]},"y":{"field":"lo","type":"quantitative"},"y2":{"field":"hi"}}},
{"mark":{"type":"tick","size":17,"thickness":2,"color":"black"},"encoding":{"x":{"field":"g","type":"nominal","sort":["WT","jazD","phyB","sjd1","sjd4","sjd40","sjd83","sjd93","sjd109","sjd110","sjd111","sjd113","jazD phyB"]},"y":{"field":"hi","type":"quantitative"}}},
{"mark":{"type":"tick","size":17,"thickness":2,"color":"black"},"encoding":{"x":{"field":"g","type":"nominal","sort":["WT","jazD","phyB","sjd1","sjd4","sjd40","sjd83","sjd93","sjd109","sjd110","sjd111","sjd113","jazD phyB"]},"y":{"field":"lo","type":"quantitative"}}},
{"mark":{"type":"text","fontSize":32,"baseline":"alphabetic","dy":-5,"color":"black"},"encoding":{"x":{"field":"g","type":"nominal","sort":["WT","jazD","phyB","sjd1","sjd4","sjd40","sjd83","sjd93","sjd109","sjd110","sjd111","sjd113","jazD phyB"]},"y":{"field":"hi","type":"quantitative"},"text":{"field":"s","type":"nominal"}}},
{"mark":{"type":"rule","strokeWidth":2,"color":"black"},"encoding":{"x":{"field":"g","type":"nominal","bandPosition":0,"sort":["WT","jazD","phyB","sjd1","sjd4","sjd40","sjd83","sjd93","sjd109","sjd110","sjd111","sjd113","jazD phyB"]},"y":{"datum":0,"type":"quantitative"},"y2":{"datum":-0.08}}},
{"transform":[{"filter":"datum.g == 'jazD phyB'"}],"mark":{"type":"rule","strokeWidth":2,"color":"black"},"encoding":{"x":{"field":"g","type":"nominal","bandPosition":1,"sort":["WT","jazD","phyB","sjd1","sjd4","sjd40","sjd83","sjd93","sjd109","sjd110","sjd111","sjd113","jazD phyB"]},"y":{"datum":0,"type":"quantitative"},"y2":{"datum":-0.08}}},
{"transform":[{"filter":"datum.g == 'WT'"}],"mark":{"type":"text","text":"A","fontSize":28,"fontWeight":"bold","align":"left","baseline":"middle","dx":-222,"color":"black"},"encoding":{"x":{"field":"g","type":"nominal","sort":["WT","jazD","phyB","sjd1","sjd4","sjd40","sjd83","sjd93","sjd109","sjd110","sjd111","sjd113","jazD phyB"]},"y":{"datum":2.134,"type":"quantitative"}}}
]
},
{
"width":591,"height":219,
"layer":[
{"data":{"name":"light"},"mark":{"type":"area","interpolate":"step-after","color":"#a8b2b1"},
"encoding":{"x":{"field":"t","type":"quantitative","scale":{"domain":[0,300],"nice":false,"zero":false},"axis":null},
"y":{"field":"I","type":"quantitative","scale":{"domain":[-87,3087],"nice":false,"zero":false},"axis":{"values":[100,500,1000],"format":"d","offset":10,"domain":false,"tickSize":11,"tickWidth":2,"labelFontSize":27,"labelPadding":18,"title":null,"grid":false}},
"detail":{"field":"d","type":"nominal"}}},
{"data":{"name":"spikes"},"mark":{"type":"rule","color":"#a8b2b1","strokeWidth":1.6},"encoding":{"x":{"field":"t","type":"quantitative"},"y":{"field":"I","type":"quantitative"},"y2":{"datum":0}}},
{"data":{"values":[{}]},"mark":{"type":"rule","strokeWidth":2,"color":"black"},"encoding":{"x":{"datum":-5.08,"type":"quantitative"},"y":{"datum":100,"type":"quantitative"},"y2":{"datum":1000}}},
{"data":{"name":"days"},"mark":{"type":"text","fontSize":29,"align":"center","baseline":"middle","color":"black"},"encoding":{"x":{"field":"t","type":"quantitative"},"y":{"datum":2087,"type":"quantitative"},"text":{"field":"l1","type":"nominal"}}},
{"data":{"name":"days"},"mark":{"type":"text","fontSize":29,"align":"center","baseline":"middle","color":"black"},"encoding":{"x":{"field":"t","type":"quantitative"},"y":{"datum":1507,"type":"quantitative"},"text":{"field":"l2","type":"nominal"}}},
{"data":{"values":[{}]},"mark":{"type":"text","text":"Light intensity","fontSize":29,"align":"right","baseline":"middle","color":"black"},"encoding":{"x":{"datum":-2.54,"type":"quantitative"},"y":{"datum":2087,"type":"quantitative"}}},
{"data":{"values":[{}]},"mark":{"type":"text","text":"(µmol·m²·s⁻¹)","fontSize":21,"align":"right","baseline":"middle","color":"black"},"encoding":{"x":{"datum":-2.54,"type":"quantitative"},"y":{"datum":1507,"type":"quantitative"}}},
{"data":{"values":[{}]},"mark":{"type":"text","text":"B","fontSize":28,"fontWeight":"bold","align":"left","baseline":"middle","color":"black"},"encoding":{"x":{"datum":-101.5,"type":"quantitative"},"y":{"datum":2725,"type":"quantitative"}}}
]
},
{
"width":591,"height":461,
"layer":[
{"data":{"name":"heat"},"mark":{"type":"rect","strokeWidth":0.6},
"encoding":{
"x":{"field":"a","type":"quantitative","scale":{"domain":[0,300],"nice":false,"zero":false},"axis":null},
"x2":{"field":"b"},
"y":{"field":"g","type":"nominal","sort":["WT","jazD","phyB","sjd1","sjd4","sjd40","sjd83","sjd93","sjd109","sjd110","sjd111","sjd113"],"title":null,"scale":{"paddingInner":0,"paddingOuter":0},
"axis":{"labelFontSize":31,"labelPadding":27,"ticks":false,"domain":false,"labelFontStyle":{"condition":{"test":"datum.value == 'WT'","value":"normal"},"value":"italic"}}},
"color":{"field":"v","type":"quantitative","scale":{"domain":[-0.3,-0.26,-0.24,-0.225,-0.21,-0.195,-0.175,-0.15,-0.12,-0.1,-0.08,-0.06,-0.04,-0.02,0,0.03,0.06,0.1,0.13,0.15,0.19,0.23,0.27,0.3],"range":["#1a3cff","#1c40ff","#2766cc","#2a8c99","#30bb60","#26f525","#3cff0c","#55ff00","#50f200","#2cd40c","#1c9a0a","#186a05","#14440a","#0f220b","#0a0a0a","#2a1f0a","#5a4505","#a07e00","#d8aa00","#ffc000","#ff8400","#ff4a00","#ff0a00","#ff0000"],"interpolate":"rgb"},
"legend":{"orient":"none","legendX":49,"legendY":488,"direction":"horizontal","gradientLength":494,"gradientThickness":20,"gradientStrokeWidth":0,"title":"ϕɪɪ fold change (log₂) over Col-0","titleLimit":800,"titleFontSize":27,"titleFontWeight":"normal","titleAnchor":"middle","titlePadding":12,"titleColor":"black","labelFontSize":26,"labelColor":"black","labelOffset":14,"labelAlign":"center","labelOverlap":false,"values":[-0.3,0,0.3],"labelExpr":"datum.value < 0 ? '-0.3' : datum.value > 0 ? '0.3' : '0'"}},
"stroke":{"field":"v","type":"quantitative","legend":null,"scale":{"domain":[-0.3,-0.26,-0.24,-0.225,-0.21,-0.195,-0.175,-0.15,-0.12,-0.1,-0.08,-0.06,-0.04,-0.02,0,0.03,0.06,0.1,0.13,0.15,0.19,0.23,0.27,0.3],"range":["#1a3cff","#1c40ff","#2766cc","#2a8c99","#30bb60","#26f525","#3cff0c","#55ff00","#50f200","#2cd40c","#1c9a0a","#186a05","#14440a","#0f220b","#0a0a0a","#2a1f0a","#5a4505","#a07e00","#d8aa00","#ffc000","#ff8400","#ff4a00","#ff0a00","#ff0000"],"interpolate":"rgb"}}
}},
{"data":{"values":[{"t":100},{"t":200}]},"mark":{"type":"rule","color":"white","strokeWidth":4},"encoding":{"x":{"field":"t","type":"quantitative"}}}
]
},
{
"width":591,"height":556,
"layer":[
{"data":{"name":"muts"},"mark":{"type":"rule","strokeWidth":2,"color":"black"},
"encoding":{"x":{"field":"aa","type":"quantitative","scale":{"domain":[299,1136.6],"nice":false,"zero":false},"axis":null},
"y":{"field":"top","type":"quantitative","scale":{"domain":[0,556],"nice":false,"zero":false},"axis":null},"y2":{"datum":102}}},
{"data":{"values":[{}]},"mark":{"type":"rule","strokeWidth":2.5,"color":"black"},"encoding":{"x":{"datum":0,"type":"quantitative"},"x2":{"datum":1175},"y":{"datum":102,"type":"quantitative"}}},
{"data":{"name":"doms"},"mark":{"type":"rect","cornerRadius":7,"stroke":"#2a2a2a","strokeWidth":1.5},
"encoding":{"x":{"field":"a","type":"quantitative"},"x2":{"field":"b"},"y":{"datum":83,"type":"quantitative"},"y2":{"datum":122},
"color":{"field":"n","type":"nominal","legend":null,"scale":{"domain":["PAS2","GAF","PHY","PAS","HKR"],"range":["#66f5ec","#39ef14","#ff7c0a","#4b7bfa","#bdfd0f"]}}}},
{"data":{"name":"doms"},"mark":{"type":"text","fontSize":26,"align":"center","baseline":"middle"},
"encoding":{"x":{"field":"c","type":"quantitative"},"y":{"datum":102,"type":"quantitative"},"text":{"field":"n","type":"nominal"},"color":{"condition":{"test":"datum.n == 'PAS'","value":"white"},"value":"black"}}},
{"data":{"name":"muts"},"mark":{"type":"text","fontSize":25,"align":"left","baseline":"top","dx":-4.5,"lineBreak":"\n","lineHeight":36,"color":"black"},
"encoding":{"x":{"field":"aa","type":"quantitative"},"y":{"field":"mt","type":"quantitative"},"text":{"field":"mut","type":"nominal"}}},
{"data":{"name":"muts"},"mark":{"type":"text","fontSize":27,"fontStyle":"italic","align":"left","baseline":"top","dx":-4.5,"lineBreak":"\n","lineHeight":36,"color":"black"},
"encoding":{"x":{"field":"aa","type":"quantitative"},"y":{"field":"lt","type":"quantitative"},"text":{"field":"name","type":"nominal"}}},
{"data":{"name":"mods"},"mark":{"type":"rule","strokeWidth":1.5,"color":"#333333"},"encoding":{"x":{"field":"a","type":"quantitative"},"x2":{"field":"b"},"y":{"datum":51,"type":"quantitative"}}},
{"data":{"name":"mods"},"mark":{"type":"rule","strokeWidth":1.5,"color":"#333333"},"encoding":{"x":{"field":"a","type":"quantitative"},"y":{"datum":62,"type":"quantitative"},"y2":{"datum":51}}},
{"data":{"name":"mods"},"mark":{"type":"rule","strokeWidth":1.5,"color":"#333333"},"encoding":{"x":{"field":"b","type":"quantitative"},"y":{"datum":62,"type":"quantitative"},"y2":{"datum":51}}},
{"data":{"name":"mods"},"mark":{"type":"text","fontSize":31,"align":"center","baseline":"middle","color":"black"},"encoding":{"x":{"field":"c","type":"quantitative"},"y":{"datum":17,"type":"quantitative"},"text":{"field":"l","type":"nominal"}}},
{"data":{"values":[{}]},"mark":{"type":"text","text":"C","fontSize":28,"fontWeight":"bold","align":"left","baseline":"middle","color":"black"},"encoding":{"x":{"datum":14,"type":"quantitative"},"y":{"datum":488,"type":"quantitative"}}}
]
}
]
}
